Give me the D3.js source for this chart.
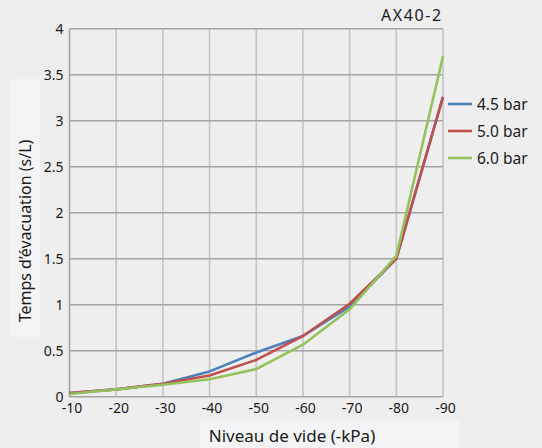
<!DOCTYPE html>
<html><head><meta charset="utf-8">
<script src="https://cdn.jsdelivr.net/npm/d3@7"></script>
<style>
html,body{margin:0;padding:0;background:#eeeeee;}
svg{display:block;font-family:"Noto Sans","Open Sans",sans-serif;}
</style></head>
<body>
<svg id="chart" width="542" height="448"></svg>
<script>
const categories = ["-10","-20","-30","-40","-50","-60","-70","-80","-90"];
const seriesNames = ["4.5 bar","5.0 bar","6.0 bar"];
const s45 = [0.04,0.08,0.14,0.275,0.48,0.66,0.98,1.5,3.26];
const s50 = [0.04,0.08,0.14,0.23,0.40,0.66,1.01,1.5,3.26];
const s60 = [0.03,0.08,0.13,0.19,0.30,0.565,0.95,1.53,3.70];
const yTicks = [0,0.5,1,1.5,2,2.5,3,3.5,4];
const colors = ["#4f81bd","#c0504d","#94c25a"];
const title = "AX40-2";
const yTitle = "Temps d’évacuation (s/L)";
const xTitle = "Niveau de vide (-kPa)";

const svg = d3.select("#chart");
const L = 69.5, R = 443, T = 28.7, B = 396.7;
const x = d3.scalePoint().domain(categories).range([L,R]);
const y = d3.scaleLinear().domain([0,4]).range([B,T]);

// title backgrounds
svg.append("rect").attr("x",10).attr("y",79).attr("width",30).attr("height",258).attr("fill","#f3f4f6");
svg.append("rect").attr("x",200).attr("y",421).attr("width",259).attr("height",27).attr("fill","#f3f4f6");

// vertical gridlines
svg.append("g").selectAll("line").data(categories.slice(1)).join("line")
  .attr("x1",d=>x(d)).attr("x2",d=>x(d)).attr("y1",T).attr("y2",B)
  .attr("stroke","#c4c4c4").attr("stroke-width",1.6);
// horizontal gridlines
svg.append("g").selectAll("line").data(yTicks.slice(1)).join("line")
  .attr("x1",L).attr("x2",R).attr("y1",d=>y(d)).attr("y2",d=>y(d))
  .attr("stroke","#a3a3a3").attr("stroke-width",1.6);
// axis lines
svg.append("line").attr("x1",L).attr("x2",L).attr("y1",T).attr("y2",B).attr("stroke","#a3a3a3").attr("stroke-width",1.6);
svg.append("line").attr("x1",L).attr("x2",R).attr("y1",B).attr("y2",B).attr("stroke","#a3a3a3").attr("stroke-width",1.6);

// y axis labels
const yAxis = d3.axisLeft(y).tickValues(yTicks).tickSize(0).tickPadding(5).tickFormat(d=>String(d));
const gy = svg.append("g").attr("transform",`translate(${L-1},0)`).call(yAxis);
gy.select(".domain").remove();
gy.selectAll("text").attr("font-size",14).attr("fill","#1a1a1a").attr("font-family","Noto Sans, sans-serif");

// x axis labels
const xAxis = d3.axisBottom(x).tickSize(0).tickPadding(6);
const gx = svg.append("g").attr("transform",`translate(2,${B})`).call(xAxis);
gx.select(".domain").remove();
gx.selectAll("text").attr("font-size",14).attr("fill","#1a1a1a").attr("font-family","Noto Sans, sans-serif");

// lines
const series = [s45,s50,s60];
const line = d3.line().x((d,i)=>x(categories[i])).y(d=>y(d));
series.forEach((s,k)=>{
  svg.append("path").datum(s).attr("d",line).attr("fill","none")
    .attr("stroke",colors[k]).attr("stroke-width",2.6).attr("stroke-linejoin","round");
});

// legend
const lg = svg.append("g");
seriesNames.forEach((n,k)=>{
  const cy = 104 + k*27;
  lg.append("line").attr("x1",448).attr("x2",472).attr("y1",cy).attr("y2",cy)
    .attr("stroke",colors[k]).attr("stroke-width",2.6);
  lg.append("text").attr("x",477).attr("y",cy).attr("dy","0.36em")
    .attr("font-size",15.5).attr("fill","#1a1a1a").text(n);
});

// title
svg.append("text").attr("x",381).attr("y",21).attr("text-anchor","start")
  .attr("font-size",16).attr("letter-spacing",1.6).attr("fill","#1a1a1a").text(title);

// axis titles
svg.append("text").attr("transform","translate(31,231) rotate(-90)")
  .attr("text-anchor","middle").attr("font-size",16).attr("fill","#1a1a1a").text(yTitle);
svg.append("text").attr("x",292).attr("y",442).attr("text-anchor","middle")
  .attr("font-size",17).attr("fill","#1a1a1a").text(xTitle);
</script>
</body></html>
